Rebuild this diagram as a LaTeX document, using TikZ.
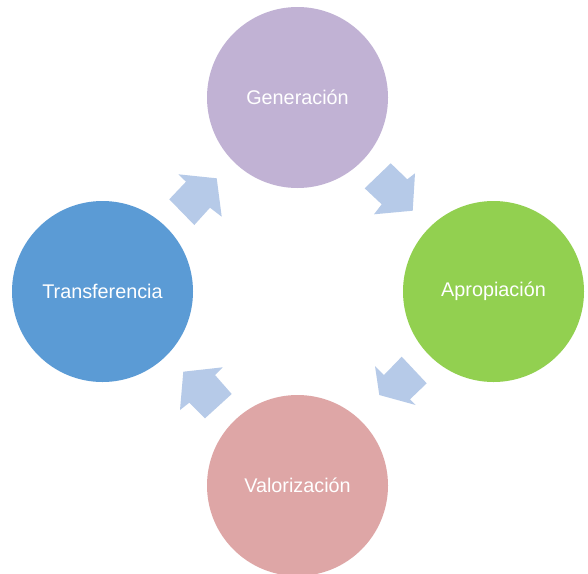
\documentclass[tikz,border=0pt]{standalone}
\usepackage{fontspec}
\setmainfont{Liberation Sans}
\definecolor{cgen}{RGB}{193,178,212}
\definecolor{capr}{RGB}{146,208,80}
\definecolor{cval}{RGB}{222,166,166}
\definecolor{ctra}{RGB}{91,155,213}
\definecolor{carr}{RGB}{182,202,232}
\tikzset{
  stage/.style={circle, fill=#1, draw=none, minimum size=181pt, inner sep=0pt,
    text=white, font=\fontsize{19.8}{23}\selectfont},
  blockarrow/.style={fill=carr, draw=none}
}
\begin{document}
\begin{tikzpicture}[x=1pt,y=-1pt]
\useasboundingbox (0,0) rectangle (588,573);
\fill[white] (0,0) rectangle (588,573);
\node[stage=cgen] (gen) at (297.5,97.5) {Generación};
\node[stage=capr] (apr) at (493.5,291.5) {Apropiación};
\node[stage=cval] (val) at (297.5,485.5) {Valorización};
\node[stage=ctra] (tra) at (102.5,291.5) {Transferencia};
% arrow Transferencia -> Generacion
\fill[blockarrow] (178.3,174.3) -- (216.7,178.3) -- (221.7,216.7) -- (210,207.7)
  -- (194.3,225) -- (169.3,199.3) -- (186,181.7) -- cycle;
% arrow Generacion -> Apropiacion
\fill[blockarrow] (415,173.3) -- (412.7,210.7) -- (374,214.3) -- (381.7,204.3)
  -- (364.7,188.3) -- (390.7,163.3) -- (407.3,179.3) -- cycle;
% arrow Apropiacion -> Valorizacion
\fill[blockarrow] (401.7,356.7) -- (426.7,383.3) -- (410,399.3) -- (415.7,405)
  -- (379.3,395) -- (375,366) -- (384,375) -- cycle;
% arrow Valorizacion -> Transferencia
\fill[blockarrow] (183.3,371.7) -- (222.7,367.3) -- (215,375) -- (231.7,394)
  -- (205,418.3) -- (189.3,402.7) -- (180,410) -- cycle;
\end{tikzpicture}
\end{document}
